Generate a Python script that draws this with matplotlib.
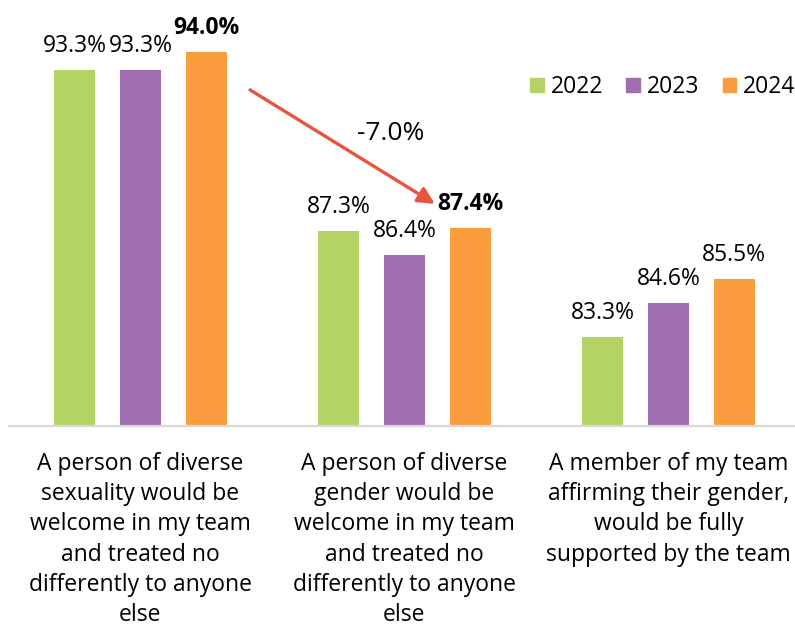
import matplotlib
matplotlib.use("Agg")
import matplotlib.pyplot as plt
from matplotlib.patches import Patch
import numpy as np

plt.rcParams['font.family'] = ['Open Sans', 'DejaVu Sans']

categories = [
    "A person of diverse\nsexuality would be\nwelcome in my team\nand treated no\ndifferently to anyone\nelse",
    "A person of diverse\ngender would be\nwelcome in my team\nand treated no\ndifferently to anyone\nelse",
    "A member of my team\naffirming their gender,\nwould be fully\nsupported by the team",
]
years = ["2022", "2023", "2024"]
v2022 = [93.3, 87.3, 83.3]
v2023 = [93.3, 86.4, 84.6]
v2024 = [94.0, 87.4, 85.5]
change_label = "-7.0%"

colors = ["#B3D465", "#A06EB0", "#F99D3E"]
series = [v2022, v2023, v2024]

fig = plt.figure(figsize=(7.95, 6.3), dpi=100)
ax = fig.add_axes([8.5/795, (630-425.5)/630, 792/795, 16*26.7/630])

x = np.arange(len(categories))
w = 0.157
off = 0.249
fs = 16.5
for i, (vals, c) in enumerate(zip(series, colors)):
    xs = x + (i-1)*off
    ax.bar(xs, [v-80 for v in vals], bottom=80, width=w, color=c, zorder=2)
    for j, (xx, v) in enumerate(zip(xs, vals)):
        bold = (i == 2 and j < 2)
        ax.annotate(f"{v:.1f}%", (xx, v), xytext=(0, 12), textcoords='offset pixels',
                    ha='center', va='bottom', fontsize=fs,
                    fontweight='bold' if bold else 'normal', color='black')

ax.set_xlim(-0.5, 2.5)
ax.set_ylim(80, 96)
ax.set_yticks([])
ax.set_xticks(x)
ax.set_xticklabels(categories, fontsize=fs, linespacing=1.35, va='top')
ax.tick_params(axis='x', length=0, pad=19)
for s in ['top', 'right', 'left']:
    ax.spines[s].set_visible(False)
ax.spines['bottom'].set_color('#D9D9D9')
ax.spines['bottom'].set_linewidth(1.6)

# arrow
ax.annotate("", xy=(1.115, 88.3), xytext=(0.415, 92.57),
            arrowprops=dict(arrowstyle='-|>,head_length=1.0,head_width=0.5',
                            color='#E8553E', lw=2.4, shrinkA=0, shrinkB=0))
ax.text(0.949, 90.95, change_label, ha='center', va='center', fontsize=19, color='black')

handles = [Patch(color=c) for c in colors]
fig.legend(handles, years, loc='center', bbox_to_anchor=(663/795, 1-87/630), ncol=3,
           frameon=False, fontsize=fs, handlelength=0.6, handleheight=0.6,
           handletextpad=0.3, columnspacing=1.0)

fig.savefig("out.png", dpi=100)
